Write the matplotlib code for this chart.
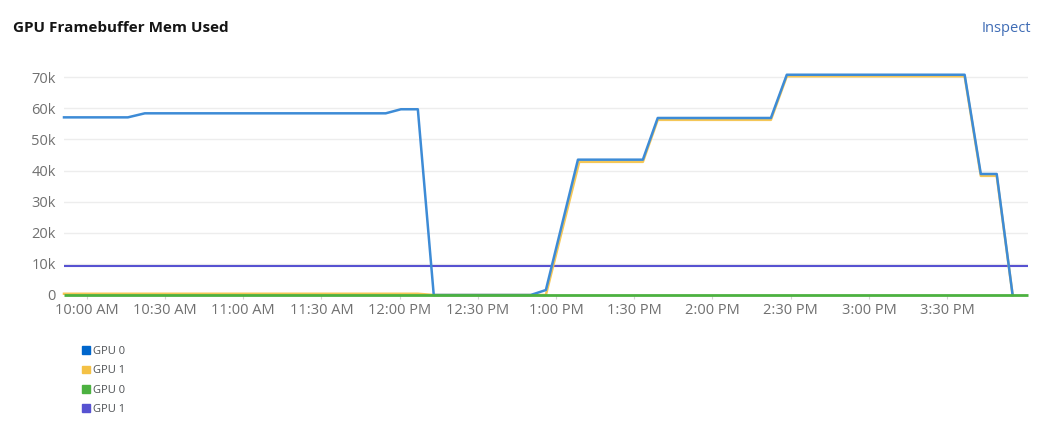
import matplotlib
matplotlib.use("Agg")
import matplotlib.pyplot as plt
from matplotlib.patches import Patch

# minutes after 10:00 AM
x_min, x_max = -8.7, 361.0

gpu0_t = [-8.7, 15.8, 22.3, 114.7, 120.5, 127.0, 133.1, 170.3, 176.1, 188.4,
          213.3, 219.0, 262.4, 268.5, 336.7, 342.9, 349.0, 355.1]
gpu0_v = [57100, 57100, 58400, 58400, 59700, 59700, 0, 0, 1600, 43500,
          43500, 56900, 56900, 70800, 70800, 38900, 38900, 0]

gpu1_t = [-8.7, 127.0, 133.1, 176.1, 188.9, 213.3, 219.0, 262.4, 268.5,
          336.7, 342.9, 349.0, 355.1]
gpu1_v = [400, 400, 0, 0, 42800, 42800, 56300, 56300, 70300,
          70300, 38300, 38300, 0]

gpu0b_t = [x_min, x_max]
gpu0b_v = [0, 0]
gpu1b_t = [x_min, x_max]
gpu1b_v = [9350, 9350]

xtick_pos = [0, 30, 60, 90, 120, 150, 180, 210, 240, 270, 300, 330]
xtick_labels = ["10:00 AM", "10:30 AM", "11:00 AM", "11:30 AM", "12:00 PM",
                "12:30 PM", "1:00 PM", "1:30 PM", "2:00 PM", "2:30 PM",
                "3:00 PM", "3:30 PM"]
ytick_pos = [0, 10000, 20000, 30000, 40000, 50000, 60000, 70000]
ytick_labels = ["0", "10k", "20k", "30k", "40k", "50k", "60k", "70k"]

legend_names = ["GPU 0", "GPU 1", "GPU 0", "GPU 1"]
blue, gold, green, purple = "#0066cc", "#f4c145", "#4cb140", "#5752d1"

plt.rcParams['font.family'] = ['Open Sans', 'DejaVu Sans']

fig = plt.figure(figsize=(10.51, 4.30), dpi=100)
ax = fig.add_axes([64 / 1051, 135 / 430, 964 / 1051, 224 / 430])

ax.plot(gpu1b_t, gpu1b_v, color=purple, linewidth=1.5, solid_capstyle='butt')
ax.plot(gpu1_t, gpu1_v, color=gold, linewidth=1.8, alpha=0.9, clip_on=False)
ax.plot(gpu0_t, gpu0_v, color="#3d8bd6", linewidth=1.8, clip_on=False)
ax.plot(gpu0b_t, gpu0b_v, color=green, linewidth=2, solid_capstyle='butt',
        clip_on=False)

ax.set_xlim(x_min, x_max)
ax.set_ylim(0, 72000)
ax.set_xticks(xtick_pos)
ax.set_xticklabels(xtick_labels)
ax.set_yticks(ytick_pos)
ax.set_yticklabels(ytick_labels)
ax.grid(axis='y', color='#ededed', linewidth=1)
ax.set_axisbelow(True)
for s in ax.spines.values():
    s.set_visible(False)
ax.tick_params(axis='x', length=3, color='#d2d2d2', labelsize=10.5,
               labelcolor='#707070', pad=3)
ax.tick_params(axis='y', length=0, labelsize=10.5, labelcolor='#707070', pad=6)

fig.text(13 / 1051, 1 - 28 / 430, "GPU Framebuffer Mem Used", fontsize=11,
         fontweight='bold', color='#151515', va='center')
fig.text(1031 / 1051, 1 - 28 / 430, "Inspect", fontsize=10.5,
         color='#3f6cb5', va='center', ha='right')

handles = [Patch(color=c) for c in (blue, gold, green, purple)]
fig.legend(handles, legend_names, loc='upper left',
           bbox_to_anchor=(72 / 1051, 1 - 336 / 430), frameon=False,
           fontsize=8, labelcolor='#4f5255', handlelength=0.7,
           handleheight=0.7, handletextpad=0.3, labelspacing=0.75)

fig.savefig("out.png", dpi=100)
